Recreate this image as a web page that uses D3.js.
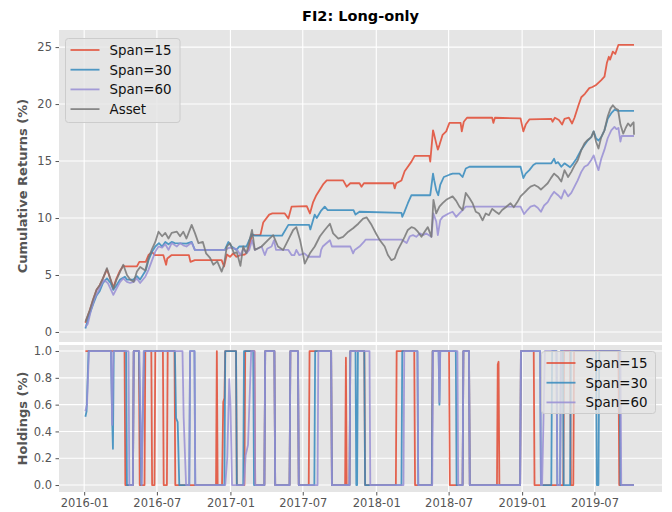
<!DOCTYPE html>
<html>
<head>
<meta charset="utf-8">
<script src="https://cdn.jsdelivr.net/npm/d3@7"></script>
<style>
  body { margin: 0; background: #fff; }
  svg { display: block; font-family: "DejaVu Sans", sans-serif; }
</style>
</head>
<body>
<svg width="672" height="512"></svg>
<script>
var seriesNames = ["Span=15", "Span=30", "Span=60", "Asset"];
var seriesColors = ["#E24A33", "#348ABD", "#988ED5", "#777777"];
var xTickLabels = ["2016-01", "2016-07", "2017-01", "2017-07", "2018-01", "2018-07", "2019-01", "2019-07"];
var returnTicks = [0, 5, 10, 15, 20, 25];
var holdingTicks = [0, 0.2, 0.4, 0.6, 0.8, 1.0];

// cumulative returns (%)
var span15Returns = [
  ["2016-01-04",0.8],["2016-01-15",1.9],["2016-01-23",2.8],["2016-02-01",3.7],["2016-02-09",4.1],["2016-02-17",4.7],
  ["2016-02-27",5.5],["2016-03-07",4.6],["2016-03-14",3.9],["2016-03-22",4.7],["2016-03-31",5.4],["2016-04-08",5.8],
  ["2016-04-12",5.75],["2016-05-12",5.75],["2016-05-18",6.15],["2016-06-03",6.15],["2016-06-10",6.75],["2016-06-19",7.0],
  ["2016-06-26",6.75],["2016-07-17",6.75],["2016-07-24",5.9],["2016-07-27",6.45],["2016-08-07",6.75],["2016-09-19",6.75],
  ["2016-09-23",6.15],["2016-10-04",6.3],["2016-12-10",6.3],["2016-12-16",5.75],["2016-12-23",6.8],["2016-12-31",6.6],
  ["2017-01-08",6.9],["2017-01-16",6.6],["2017-01-26",6.75],["2017-02-06",6.8],["2017-02-15",7.2],["2017-02-24",8.5],
  ["2017-03-17",8.5],["2017-03-24",9.6],["2017-04-08",10.3],["2017-04-16",10.4],["2017-05-17",10.4],["2017-05-26",9.95],
  ["2017-06-03",11.0],["2017-07-11",11.05],["2017-07-19",10.4],["2017-07-27",11.4],["2017-08-04",12.0],["2017-08-13",12.5],
  ["2017-08-22",13.0],["2017-08-30",13.3],["2017-10-10",13.3],["2017-10-19",12.75],["2017-10-28",13.05],["2017-11-20",13.05],
  ["2017-11-25",12.75],["2017-12-01",13.05],["2018-02-13",13.05],["2018-02-16",12.6],["2018-02-20",13.05],["2018-03-05",13.3],
  ["2018-03-13",14.1],["2018-03-21",14.5],["2018-03-30",14.95],["2018-04-07",15.45],["2018-05-14",15.45],["2018-05-16",14.95],
  ["2018-05-23",17.7],["2018-05-26",17.3],["2018-05-31",16.55],["2018-06-04",16.0],["2018-06-08",16.4],["2018-06-16",17.3],
  ["2018-06-25",17.6],["2018-07-03",18.35],["2018-07-31",18.35],["2018-08-03",17.6],["2018-08-08",18.45],["2018-08-16",18.8],
  ["2018-10-18",18.8],["2018-10-21",18.35],["2018-10-25",18.8],["2018-12-28",18.75],["2019-01-04",17.6],["2019-01-10",18.2],
  ["2019-01-19",18.65],["2019-03-15",18.7],["2019-03-18",18.45],["2019-03-24",18.8],["2019-04-03",18.6],["2019-04-11",18.2],
  ["2019-04-17",18.7],["2019-04-28",18.8],["2019-05-06",18.3],["2019-05-12",18.8],["2019-05-22",19.9],["2019-05-29",20.6],
  ["2019-06-07",20.9],["2019-06-18",21.4],["2019-06-26",21.5],["2019-07-06",21.7],["2019-07-18",22.1],["2019-07-26",22.4],
  ["2019-08-01",23.6],["2019-08-06",24.15],["2019-08-09",23.9],["2019-08-16",24.6],["2019-08-22",24.4],["2019-08-30",25.2],
  ["2019-10-08",25.2]
];
var span30Returns = [
  ["2016-01-04",0.3],["2016-01-15",1.6],["2016-01-23",2.4],["2016-02-01",3.2],["2016-02-09",3.6],["2016-02-17",4.3],
  ["2016-02-27",4.7],["2016-03-07",4.3],["2016-03-14",3.7],["2016-03-22",4.1],["2016-03-31",4.6],["2016-04-12",4.85],
  ["2016-04-17",4.6],["2016-05-03",4.6],["2016-05-12",4.9],["2016-05-20",4.6],["2016-06-03",5.4],["2016-06-10",6.3],
  ["2016-06-19",7.05],["2016-06-27",7.5],["2016-07-06",7.8],["2016-07-14",7.5],["2016-07-22",7.9],["2016-07-30",7.7],
  ["2016-08-07",7.9],["2016-08-15",7.8],["2016-09-13",7.75],["2016-09-26",7.9],["2016-10-04",7.2],["2016-12-18",7.2],
  ["2016-12-27",7.9],["2017-01-04",7.5],["2017-01-16",7.2],["2017-01-23",7.5],["2017-02-10",7.5],["2017-02-24",8.6],
  ["2017-03-03",8.45],["2017-05-10",8.45],["2017-05-26",9.4],["2017-07-17",9.4],["2017-07-20",9.0],["2017-07-31",10.3],
  ["2017-08-05",10.0],["2017-08-15",10.6],["2017-08-25",11.0],["2017-09-01",10.7],["2017-11-05",10.7],["2017-11-10",10.3],
  ["2017-11-20",10.55],["2018-03-05",10.45],["2018-03-07",10.1],["2018-03-12",10.5],["2018-03-21",11.3],["2018-03-30",12.0],
  ["2018-05-16",12.0],["2018-05-23",13.9],["2018-05-26",13.3],["2018-05-31",12.45],["2018-06-05",12.0],["2018-06-10",12.9],
  ["2018-06-19",13.6],["2018-07-03",13.8],["2018-07-11",13.9],["2018-07-28",13.9],["2018-08-05",13.6],["2018-08-13",14.35],
  ["2018-08-22",14.5],["2018-12-28",14.5],["2019-01-04",13.5],["2019-01-10",13.9],["2019-01-19",14.2],["2019-01-29",14.65],
  ["2019-02-05",14.8],["2019-03-15",14.8],["2019-03-22",15.2],["2019-03-26",14.8],["2019-04-01",14.9],["2019-04-09",14.5],
  ["2019-04-17",14.8],["2019-05-01",14.45],["2019-05-09",14.8],["2019-05-17",15.2],["2019-05-29",16.0],["2019-06-06",16.4],
  ["2019-06-14",16.8],["2019-06-23",17.1],["2019-06-29",17.6],["2019-07-05",17.0],["2019-07-11",16.8],["2019-07-18",17.1],
  ["2019-07-26",17.7],["2019-08-03",18.7],["2019-08-12",19.2],["2019-08-20",19.5],["2019-08-29",19.4],["2019-10-08",19.4]
];
var span60Returns = [
  ["2016-01-04",0.45],["2016-01-10",0.7],["2016-01-18",1.9],["2016-01-27",2.95],["2016-02-04",3.5],["2016-02-12",4.1],
  ["2016-02-20",4.55],["2016-02-29",4.3],["2016-03-14",3.25],["2016-03-22",3.8],["2016-03-31",4.4],["2016-04-08",4.7],
  ["2016-04-17",4.4],["2016-04-25",4.3],["2016-05-04",4.4],["2016-05-12",4.7],["2016-05-20",4.3],["2016-06-02",4.85],
  ["2016-06-10",5.45],["2016-06-19",6.3],["2016-06-27",7.05],["2016-07-05",7.5],["2016-07-14",7.4],["2016-07-22",7.7],
  ["2016-07-30",7.2],["2016-08-07",7.8],["2016-08-20",7.5],["2016-08-28",7.8],["2016-09-05",7.6],["2016-09-13",7.5],
  ["2016-09-26",7.85],["2016-10-04",7.2],["2016-12-18",7.2],["2016-12-29",7.4],["2017-01-16",7.3],["2017-01-26",6.75],
  ["2017-02-02",7.3],["2017-02-10",6.9],["2017-02-17",7.2],["2017-02-24",8.05],["2017-03-03",7.2],["2017-03-12",7.35],
  ["2017-03-20",7.5],["2017-03-28",6.75],["2017-04-03",7.3],["2017-04-14",7.5],["2017-04-20",8.05],["2017-04-25",7.2],
  ["2017-05-26",7.2],["2017-06-03",6.75],["2017-06-10",6.75],["2017-06-15",7.2],["2017-06-22",6.75],["2017-07-05",6.9],
  ["2017-07-15",6.6],["2017-08-13",6.6],["2017-08-16",7.2],["2017-08-20",7.5],["2017-09-07",8.05],["2017-09-12",7.5],
  ["2017-10-28",7.5],["2017-11-04",6.9],["2017-11-08",7.2],["2017-11-20",7.5],["2017-12-01",7.9],["2017-12-05",8.1],
  ["2018-03-06",8.1],["2018-03-18",7.8],["2018-03-26",8.4],["2018-04-03",8.5],["2018-04-11",8.35],["2018-04-20",8.65],
  ["2018-04-28",8.5],["2018-05-06",8.65],["2018-05-19",8.35],["2018-05-24",10.4],["2018-05-31",9.7],["2018-06-04",8.5],
  ["2018-06-10",9.8],["2018-06-16",10.1],["2018-07-01",10.4],["2018-07-11",10.55],["2018-07-20",10.1],["2018-07-28",10.4],
  ["2018-08-05",10.7],["2018-08-13",11.0],["2018-12-28",11.0],["2019-01-06",10.35],["2019-01-14",10.7],["2019-01-22",11.0],
  ["2019-02-01",11.1],["2019-02-09",10.9],["2019-02-17",10.55],["2019-02-25",11.1],["2019-03-06",11.4],["2019-03-14",11.9],
  ["2019-03-22",12.3],["2019-04-01",12.0],["2019-04-09",11.7],["2019-04-17",12.45],["2019-04-26",11.9],["2019-05-04",12.2],
  ["2019-05-12",12.75],["2019-05-20",13.3],["2019-05-29",14.05],["2019-06-06",14.5],["2019-06-14",14.65],["2019-06-23",15.1],
  ["2019-06-29",15.5],["2019-07-05",14.8],["2019-07-11",14.2],["2019-07-18",15.2],["2019-07-26",16.0],["2019-08-03",17.0],
  ["2019-08-12",17.7],["2019-08-20",18.0],["2019-08-25",17.8],["2019-08-30",17.9],["2019-09-04",16.7],["2019-09-07",17.2],
  ["2019-10-08",17.2]
];
var assetReturns = [
  ["2016-01-04",0.9],["2016-01-15",1.9],["2016-01-23",2.8],["2016-02-01",3.7],["2016-02-09",4.1],["2016-02-17",4.7],
  ["2016-02-27",5.6],["2016-03-07",4.6],["2016-03-14",3.8],["2016-03-22",4.6],["2016-03-31",5.3],["2016-04-08",5.9],
  ["2016-04-17",5.0],["2016-04-25",4.6],["2016-05-04",4.4],["2016-05-12",5.3],["2016-05-20",5.7],["2016-06-02",5.4],
  ["2016-06-10",6.5],["2016-06-19",7.3],["2016-06-27",7.9],["2016-07-05",8.8],["2016-07-14",8.4],["2016-07-22",8.7],
  ["2016-07-30",8.2],["2016-08-07",8.7],["2016-08-20",8.8],["2016-08-28",8.4],["2016-09-05",8.8],["2016-09-13",8.2],
  ["2016-09-26",9.4],["2016-10-04",8.7],["2016-10-13",7.8],["2016-10-24",7.9],["2016-11-01",6.9],["2016-11-11",6.5],
  ["2016-11-19",5.9],["2016-11-29",6.2],["2016-12-10",5.3],["2016-12-16",5.9],["2016-12-23",7.5],["2016-12-31",7.8],
  ["2017-01-10",6.9],["2017-01-17",7.0],["2017-01-26",5.8],["2017-02-02",7.5],["2017-02-10",6.9],["2017-02-24",8.95],
  ["2017-03-03",7.2],["2017-03-20",7.5],["2017-04-06",8.1],["2017-04-18",8.5],["2017-04-30",7.5],["2017-05-13",7.2],
  ["2017-05-26",8.1],["2017-06-07",8.95],["2017-06-15",9.2],["2017-06-24",8.1],["2017-07-02",6.75],["2017-07-06",6.0],
  ["2017-07-19",6.9],["2017-07-31",7.5],["2017-08-13",8.4],["2017-08-25",8.95],["2017-09-07",9.5],["2017-09-15",8.65],
  ["2017-09-28",8.2],["2017-10-10",8.35],["2017-10-23",8.8],["2017-11-04",9.1],["2017-11-17",9.5],["2017-11-29",9.95],
  ["2017-12-08",10.05],["2017-12-20",9.4],["2018-01-01",8.6],["2018-01-09",8.1],["2018-01-22",7.5],["2018-01-30",6.75],
  ["2018-02-08",6.3],["2018-02-16",6.45],["2018-02-24",7.2],["2018-03-05",7.8],["2018-03-13",8.35],["2018-03-21",8.95],
  ["2018-03-30",9.2],["2018-04-07",9.1],["2018-04-15",8.8],["2018-04-24",8.35],["2018-05-02",8.8],["2018-05-10",9.2],
  ["2018-05-19",8.35],["2018-05-24",11.6],["2018-05-31",10.4],["2018-06-08",11.0],["2018-06-16",11.3],["2018-06-25",11.6],
  ["2018-07-03",11.75],["2018-07-11",11.9],["2018-07-20",11.5],["2018-07-28",11.0],["2018-08-05",10.7],["2018-08-13",12.2],
  ["2018-08-22",11.75],["2018-08-30",11.3],["2018-09-07",10.55],["2018-09-15",10.4],["2018-09-24",9.8],["2018-10-02",10.4],
  ["2018-10-10",10.25],["2018-10-18",10.8],["2018-10-27",10.55],["2018-11-04",10.35],["2018-11-12",10.7],["2018-11-21",10.95],
  ["2018-12-03",11.3],["2018-12-11",10.95],["2018-12-20",11.4],["2018-12-28",11.9],["2019-01-06",12.2],["2019-01-14",12.5],
  ["2019-01-22",12.75],["2019-02-01",12.9],["2019-02-09",12.75],["2019-02-17",12.5],["2019-02-25",12.75],["2019-03-06",13.05],
  ["2019-03-14",13.5],["2019-03-22",13.9],["2019-04-01",13.6],["2019-04-09",13.2],["2019-04-17",14.2],["2019-04-26",13.6],
  ["2019-05-04",14.05],["2019-05-12",14.6],["2019-05-20",15.05],["2019-05-29",15.95],["2019-06-06",16.55],["2019-06-14",16.85],
  ["2019-06-23",17.1],["2019-06-29",17.6],["2019-07-05",16.7],["2019-07-11",16.1],["2019-07-18",17.1],["2019-07-26",17.7],
  ["2019-08-03",18.9],["2019-08-10",19.6],["2019-08-16",19.9],["2019-08-23",19.6],["2019-08-29",19.5],["2019-09-04",18.2],
  ["2019-09-11",17.4],["2019-09-17",17.9],["2019-09-23",18.3],["2019-09-29",18.05],["2019-10-04",18.3],["2019-10-07",18.4],
  ["2019-10-08",17.3]
];

// holdings (0..1)
var span15Holdings = [
  ["2016-01-04",1],["2016-04-11",1],["2016-04-13",0],["2016-05-02",0],["2016-05-04",1],["2016-05-17",1],["2016-05-19",0],
  ["2016-05-31",0],["2016-06-02",1],["2016-06-17",1],["2016-06-19",0],["2016-06-25",0],["2016-06-27",1],["2016-07-16",1],
  ["2016-07-18",0],["2016-07-26",0],["2016-07-28",1],["2016-08-14",1],["2016-08-16",0],["2016-11-26",0],["2016-11-28",1],
  ["2016-11-30",0],["2016-12-11",0],["2016-12-14",0.62],["2016-12-17",0.65],["2016-12-19",1],["2017-01-15",1],["2017-01-17",0],
  ["2017-02-05",0],["2017-02-07",1],["2017-03-02",1],["2017-03-04",0],["2017-03-27",0],["2017-03-29",1],["2017-04-21",1],
  ["2017-04-23",0],["2017-05-29",0],["2017-05-31",1],["2017-06-19",1],["2017-06-21",0],["2017-07-16",0],["2017-07-18",1],
  ["2017-09-10",1],["2017-09-12",0],["2017-10-15",0],["2017-10-17",0.95],["2017-10-19",0],["2017-10-26",0],["2017-10-28",1],
  ["2017-12-02",1],["2017-12-04",0],["2018-02-19",0],["2018-02-21",1],["2018-04-06",1],["2018-04-08",0],["2018-05-20",0],
  ["2018-05-22",1],["2018-07-02",1],["2018-07-04",0],["2018-08-05",0],["2018-08-07",1],["2018-08-21",1],["2018-08-23",0],
  ["2018-10-30",0],["2018-11-01",0.9],["2018-11-03",0.92],["2018-11-05",0],["2018-12-27",0],["2018-12-29",1],["2019-01-30",1],
  ["2019-02-01",0],["2019-04-14",0],["2019-04-16",1],["2019-05-01",1],["2019-05-03",0],["2019-05-09",0],["2019-05-11",1],
  ["2019-08-30",1],["2019-09-01",0],["2019-10-08",0]
];
var span30Holdings = [
  ["2016-01-04",0.51],["2016-01-07",0.55],["2016-01-12",1],["2016-03-08",1],["2016-03-11",0.5],["2016-03-13",0.27],
  ["2016-03-15",1],["2016-04-15",1],["2016-04-17",0],["2016-05-02",0],["2016-05-04",1],["2016-05-17",1],["2016-05-23",0],
  ["2016-05-30",1],["2016-08-15",1],["2016-08-18",0.5],["2016-08-22",0.47],["2016-08-26",0],["2016-09-20",0],["2016-09-22",1],
  ["2016-10-03",1],["2016-10-05",0],["2016-12-17",0],["2016-12-19",1],["2017-01-15",1],["2017-01-17",0],["2017-02-02",0],
  ["2017-02-04",1],["2017-02-27",1],["2017-03-01",0],["2017-03-27",0],["2017-03-29",1],["2017-04-21",1],["2017-04-23",0],
  ["2017-05-29",0],["2017-05-31",1],["2017-06-19",1],["2017-06-21",0],["2017-07-30",0],["2017-08-01",1],["2017-09-10",1],
  ["2017-09-12",0],["2017-10-26",0],["2017-10-28",1],["2017-11-10",1],["2017-11-12",0],["2017-11-14",0],["2017-11-16",1],
  ["2017-12-02",1],["2017-12-04",0],["2018-03-05",0],["2018-03-07",1],["2018-04-14",1],["2018-04-16",0],["2018-05-20",0],
  ["2018-05-22",1],["2018-06-06",1],["2018-06-08",0.6],["2018-06-10",1],["2018-07-19",1],["2018-07-21",0],["2018-08-05",0],
  ["2018-08-07",1],["2018-08-21",1],["2018-08-23",0],["2018-12-27",0],["2018-12-29",1],["2019-02-15",1],["2019-02-17",0],
  ["2019-03-15",0],["2019-03-17",1],["2019-03-28",1],["2019-03-30",0],["2019-04-06",0],["2019-04-08",1],["2019-04-13",1],
  ["2019-04-15",0],["2019-05-01",0],["2019-05-03",1],["2019-07-05",1],["2019-07-07",0],["2019-07-11",0],["2019-07-13",1],
  ["2019-09-02",1],["2019-09-04",0],["2019-10-08",0]
];
var span60Holdings = [
  ["2016-01-04",0.55],["2016-01-08",0.6],["2016-01-13",1],["2016-03-08",1],["2016-03-11",0.45],["2016-03-14",1],
  ["2016-04-21",1],["2016-04-23",0],["2016-05-02",0],["2016-05-04",1],["2016-05-18",1],["2016-05-24",0],["2016-05-29",1],
  ["2016-09-03",1],["2016-09-06",0.5],["2016-09-12",0],["2016-09-20",0],["2016-09-22",1],["2016-10-03",1],["2016-10-05",0],
  ["2016-12-19",0],["2016-12-24",0.2],["2016-12-29",0.79],["2017-01-01",0.6],["2017-01-05",0],["2017-02-04",0],
  ["2017-02-08",0.22],["2017-02-14",0.3],["2017-02-22",1],["2017-03-02",1],["2017-03-04",0],["2017-03-27",0],["2017-03-29",1],
  ["2017-04-21",1],["2017-04-23",0],["2017-05-29",0],["2017-05-31",1],["2017-06-19",1],["2017-06-21",0],["2017-08-07",0],
  ["2017-08-09",1],["2017-09-10",1],["2017-09-12",0],["2017-10-26",0],["2017-10-28",1],["2017-12-15",1],["2017-12-17",0],
  ["2018-03-10",0],["2018-03-12",1],["2018-04-14",1],["2018-04-16",0],["2018-05-21",0],["2018-05-23",1],["2018-06-06",1],
  ["2018-06-08",0.62],["2018-06-10",1],["2018-07-23",1],["2018-07-25",0],["2018-08-05",0],["2018-08-07",1],["2018-08-21",1],
  ["2018-08-23",0],["2018-12-27",0],["2018-12-29",1],["2019-02-15",1],["2019-02-17",0],["2019-02-20",0],["2019-02-27",1],
  ["2019-03-28",1],["2019-03-30",0],["2019-04-06",0],["2019-04-08",1],["2019-09-04",1],["2019-09-06",0],["2019-10-08",0]
];

var parseDate = d3.timeParse("%Y-%m-%d");
var parseMonth = d3.timeParse("%Y-%m");

function toPoints(arr) {
  return arr.map(function(d) { return { date: parseDate(d[0]), value: d[1] }; });
}

var returnsData = [span15Returns, span30Returns, span60Returns, assetReturns].map(toPoints);
var holdingsData = [span15Holdings, span30Holdings, span60Holdings].map(toPoints);

var svg = d3.select("svg"),
    width = +svg.attr("width"),
    height = +svg.attr("height");

var left = 59, right = 662;
var top1 = 30, bottom1 = 342;
var top2 = 345, bottom2 = 492;

var x = d3.scaleTime()
    .domain([parseDate("2015-10-30"), parseDate("2019-12-17")])
    .range([left, right]);

var y1 = d3.scaleLinear().domain([-0.88, 26.5]).range([bottom1, top1]);
var y2 = d3.scaleLinear().domain([-0.052, 1.045]).range([bottom2, top2]);

var xTicks = xTickLabels.map(parseMonth);

// Panels
[[top1, bottom1, y1, returnTicks], [top2, bottom2, y2, holdingTicks]].forEach(function(p) {
  svg.append("rect")
      .attr("x", left)
      .attr("y", p[0])
      .attr("width", right - left)
      .attr("height", p[1] - p[0])
      .attr("fill", "#E5E5E5");

  var grid = svg.append("g");
  grid.selectAll(".vx")
    .data(xTicks)
    .enter().append("line")
      .attr("x1", function(d) { return x(d); })
      .attr("x2", function(d) { return x(d); })
      .attr("y1", p[0])
      .attr("y2", p[1])
      .attr("stroke", "#fff")
      .attr("stroke-width", 1.1);
  grid.selectAll(".hy")
    .data(p[3])
    .enter().append("line")
      .attr("x1", left)
      .attr("x2", right)
      .attr("y1", function(d) { return p[2](d); })
      .attr("y2", function(d) { return p[2](d); })
      .attr("stroke", "#fff")
      .attr("stroke-width", 1.1);
});

function styleAxis(g) {
  g.select(".domain").remove();
  g.selectAll(".tick line").attr("stroke", "#555555");
  g.selectAll(".tick text")
      .attr("fill", "#555555")
      .style("font-size", "11.5px")
      .style("font-family", "DejaVu Sans");
}

svg.append("g")
    .attr("transform", "translate(" + left + ",0)")
    .call(d3.axisLeft(y1).tickValues(returnTicks).tickFormat(d3.format("d")).tickSize(3.5).tickPadding(3.5))
    .call(styleAxis);

svg.append("g")
    .attr("transform", "translate(" + left + ",0)")
    .call(d3.axisLeft(y2).tickValues(holdingTicks).tickFormat(d3.format(".1f")).tickSize(3.5).tickPadding(3.5))
    .call(styleAxis);

svg.append("g")
    .attr("transform", "translate(0," + bottom2 + ")")
    .call(d3.axisBottom(x).tickValues(xTicks).tickFormat(d3.timeFormat("%Y-%m")).tickSize(3.5).tickPadding(3.5))
    .call(styleAxis);

// Lines
var line1 = d3.line()
    .x(function(d) { return x(d.date); })
    .y(function(d) { return y1(d.value); });

var line2 = d3.line()
    .x(function(d) { return x(d.date); })
    .y(function(d) { return y2(d.value); });

svg.append("g").selectAll("path")
    .data(returnsData)
  .enter().append("path")
    .attr("d", line1)
    .attr("fill", "none")
    .attr("stroke", function(d, i) { return seriesColors[i]; })
    .attr("stroke-width", 1.8)
    .attr("stroke-opacity", 0.85)
    .attr("stroke-linejoin", "round");

svg.append("g").selectAll("path")
    .data(holdingsData)
  .enter().append("path")
    .attr("d", line2)
    .attr("fill", "none")
    .attr("stroke", function(d, i) { return seriesColors[i]; })
    .attr("stroke-width", 1.8)
    .attr("stroke-opacity", 0.85)
    .attr("stroke-linejoin", "round");

// Legends
function drawLegend(x0, y0, w, h, names) {
  var lg = svg.append("g").attr("transform", "translate(" + x0 + "," + y0 + ")");
  lg.append("rect")
      .attr("width", w)
      .attr("height", h)
      .attr("rx", 3)
      .attr("fill", "#E5E5E5")
      .attr("fill-opacity", 0.8)
      .attr("stroke", "#cccccc")
      .attr("stroke-width", 1);
  var rows = lg.selectAll(".row")
      .data(names)
    .enter().append("g")
      .attr("transform", function(d, i) { return "translate(0," + (11.5 + i * 19.7) + ")"; });
  rows.append("line")
      .attr("x1", 5)
      .attr("x2", 34)
      .attr("stroke", function(d, i) { return seriesColors[i]; })
      .attr("stroke-width", 1.8)
      .attr("stroke-opacity", 0.85);
  rows.append("text")
      .attr("x", 44)
      .attr("dy", "0.36em")
      .attr("fill", "#111")
      .style("font-size", "13.4px")
      .text(function(d) { return d; });
}

drawLegend(65.5, 38.5, 114.5, 84, seriesNames);
drawLegend(541.5, 351.5, 114, 62, seriesNames.slice(0, 3));

// Titles
svg.append("text")
    .attr("x", (left + right) / 2)
    .attr("y", 21)
    .attr("text-anchor", "middle")
    .attr("font-weight", "bold")
    .style("font-size", "14.5px")
    .text("FI2: Long-only");

svg.append("text")
    .attr("transform", "translate(27," + ((top1 + bottom1) / 2) + ") rotate(-90)")
    .attr("text-anchor", "middle")
    .attr("font-weight", "bold")
    .attr("fill", "#555555")
    .style("font-size", "13px")
    .text("Cumulative Returns (%)");

svg.append("text")
    .attr("transform", "translate(27," + ((top2 + bottom2) / 2) + ") rotate(-90)")
    .attr("text-anchor", "middle")
    .attr("font-weight", "bold")
    .attr("fill", "#555555")
    .style("font-size", "13px")
    .text("Holdings (%)");
</script>
</body>
</html>
